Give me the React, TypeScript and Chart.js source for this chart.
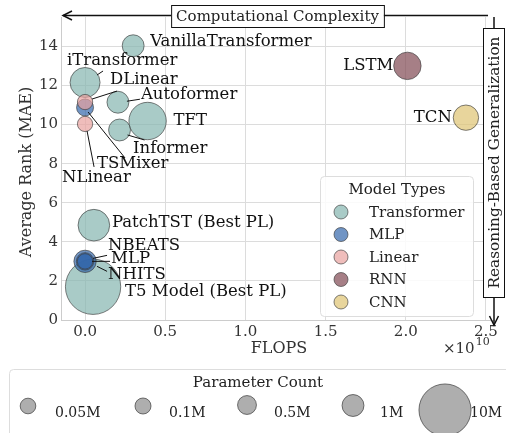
import React, { useEffect, useRef } from "react";
import { Chart, registerables } from "chart.js";

Chart.register(...registerables);

// ---------------- data ----------------
const models = [
  "T5 Model (Best PL)",
  "PatchTST (Best PL)",
  "NBEATS",
  "MLP",
  "NHITS",
  "iTransformer",
  "TSMixer",
  "DLinear",
  "NLinear",
  "VanillaTransformer",
  "Autoformer",
  "Informer",
  "TFT",
  "LSTM",
  "TCN",
];
const modelTypes = [
  "Transformer",
  "Transformer",
  "MLP",
  "MLP",
  "MLP",
  "Transformer",
  "MLP",
  "Linear",
  "Linear",
  "Transformer",
  "Transformer",
  "Transformer",
  "Transformer",
  "RNN",
  "CNN",
];
const flops = [
  0.05e10, 0.055e10, 0, 0, 0, 0, 0, 0, 0, 0.3e10, 0.205e10, 0.215e10, 0.39e10,
  2.01e10, 2.375e10,
];
const avgRank = [
  1.7, 4.85, 3.0, 3.0, 3.0, 12.15, 10.87, 11.15, 10.03, 14.03, 11.14, 9.72,
  10.18, 13.0, 10.35,
];
// parameter count, millions
const paramsM = [
  11.4, 3.1, 1.08, 0.29, 0.02, 2.7, 0.23, 0.01, 0.01, 1.0, 1.0, 1.0, 4.7, 2.1,
  1.66,
];

const typeNames = ["Transformer", "MLP", "Linear", "RNN", "CNN"];
const sizeLegendValues = [0.05, 0.1, 0.5, 1, 10];
const sizeLegendLabels = ["0.05M", "0.1M", "0.5M", "1M", "10M"];

const xTicks = [0, 0.5e10, 1.0e10, 1.5e10, 2.0e10, 2.5e10];
const yTicks = [0, 2, 4, 6, 8, 10, 12, 14];

// ---------------- styles ----------------
const typeColors: Record<string, string> = {
  Transformer: "rgba(132,181,175,0.7)",
  MLP: "rgba(51,102,171,0.7)",
  Linear: "rgba(232,161,158,0.7)",
  RNN: "rgba(128,72,82,0.7)",
  CNN: "rgba(222,195,114,0.7)",
};
const EDGE = "rgba(60,60,60,0.65)";
const SERIF = '"DejaVu Serif", serif';
const radiusFor = (m: number) => Math.sqrt(58 + 62 * m);

// label placements (pixel offsets from bubble centre)
type Place = { dx: number; dy: number; align?: CanvasTextAlign; lead?: number[] };
const labelPlace: Place[] = [
  { dx: 32, dy: 5 },
  { dx: 18, dy: -2 },
  { dx: 23, dy: -16, lead: [8, -3, 22, -6] },
  { dx: 26, dy: -3, lead: [7, 0, 25, 0] },
  { dx: 23, dy: 13, lead: [12, 5, 22, 10] },
  { dx: -18, dy: -21.5, lead: [12, -7.5, 18, -11.5] },
  { dx: 12, dy: 56.5, lead: [3, 4.5, 40, 50.5] },
  { dx: 25, dy: -22, lead: [7, -3, 32, -11] },
  { dx: -23, dy: 54, lead: [2, 7, 9, 43] },
  { dx: 17, dy: -4 },
  { dx: 23, dy: -8, lead: [9, -1, 22, -3] },
  { dx: 13.5, dy: 19, lead: [8, 5, 25, 10] },
  { dx: 26, dy: 0 },
  { dx: -14, dy: 0, align: "right" },
  { dx: -14, dy: 0, align: "right" },
];

function chevron(
  ctx: CanvasRenderingContext2D,
  tx: number,
  ty: number,
  dx: number,
  dy: number,
  len: number,
  half: number
) {
  const bx = tx - dx * len;
  const by = ty - dy * len;
  const px = -dy;
  const py = dx;
  ctx.beginPath();
  ctx.moveTo(bx + px * half, by + py * half);
  ctx.lineTo(tx, ty);
  ctx.lineTo(bx - px * half, by - py * half);
  ctx.stroke();
}

function roundRect(
  ctx: CanvasRenderingContext2D,
  x: number,
  y: number,
  w: number,
  h: number,
  r: number
) {
  ctx.beginPath();
  ctx.moveTo(x + r, y);
  ctx.lineTo(x + w - r, y);
  ctx.arcTo(x + w, y, x + w, y + r, r);
  ctx.lineTo(x + w, y + h - r);
  ctx.arcTo(x + w, y + h, x + w - r, y + h, r);
  ctx.lineTo(x + r, y + h);
  ctx.arcTo(x, y + h, x, y + h - r, r);
  ctx.lineTo(x, y + r);
  ctx.arcTo(x, y, x + r, y, r);
  ctx.closePath();
}

const overlayPlugin = {
  id: "overlay",
  afterDatasetsDraw(chart: any) {
    const ctx: CanvasRenderingContext2D = chart.ctx;
    const xs = chart.scales.x;
    const ys = chart.scales.y;
    ctx.save();

    // bubble labels + leader lines
    ctx.font = `16.5px ${SERIF}`;
    ctx.fillStyle = "#111";
    ctx.textBaseline = "middle";
    models.forEach((name, i) => {
      const px = xs.getPixelForValue(flops[i]);
      const py = ys.getPixelForValue(avgRank[i]);
      const p = labelPlace[i];
      if (p.lead) {
        ctx.strokeStyle = "#111";
        ctx.lineWidth = 1;
        ctx.beginPath();
        ctx.moveTo(px + p.lead[0], py + p.lead[1]);
        ctx.lineTo(px + p.lead[2], py + p.lead[3]);
        ctx.stroke();
      }
      ctx.textAlign = p.align || "left";
      ctx.fillText(name, px + p.dx, py + p.dy);
    });

    // axis titles
    ctx.fillStyle = "#333";
    ctx.font = `16px ${SERIF}`;
    ctx.textAlign = "center";
    ctx.textBaseline = "middle";
    ctx.fillText("FLOPS", 279, 349);
    ctx.save();
    ctx.translate(27, 172);
    ctx.rotate(-Math.PI / 2);
    ctx.fillText("Average Rank (MAE)", 0, 0);
    ctx.restore();
    // offset text x10^10
    ctx.textAlign = "left";
    ctx.font = `15px ${SERIF}`;
    ctx.fillText("\u00d710", 443, 349);
    const w10 = ctx.measureText("\u00d710").width;
    ctx.font = `11px ${SERIF}`;
    ctx.fillText("10", 443 + w10 + 1, 342);

    // top arrow: Computational Complexity
    ctx.strokeStyle = "#111";
    ctx.lineWidth = 1.5;
    ctx.beginPath();
    ctx.moveTo(488, 15.5);
    ctx.lineTo(63, 15.5);
    ctx.stroke();
    chevron(ctx, 63, 15.5, -1, 0, 9, 4.5);
    ctx.font = `15px ${SERIF}`;
    const t1 = "Computational Complexity";
    const tw1 = ctx.measureText(t1).width;
    const cx1 = 277.5;
    ctx.fillStyle = "#fff";
    ctx.lineWidth = 1;
    ctx.fillRect(cx1 - tw1 / 2 - 5, 5, tw1 + 10, 23);
    ctx.strokeRect(cx1 - tw1 / 2 - 5 + 0.5, 5.5, tw1 + 10, 22);
    ctx.fillStyle = "#222";
    ctx.textAlign = "center";
    ctx.fillText(t1, cx1, 17);

    // right arrow: Reasoning-Based Generalization
    ctx.lineWidth = 1.5;
    ctx.beginPath();
    ctx.moveTo(494, 17);
    ctx.lineTo(494, 325);
    ctx.stroke();
    chevron(ctx, 494, 325, 0, 1, 9, 4.5);
    const t2 = "Reasoning-Based Generalization";
    const cy2 = 162.5;
    ctx.fillStyle = "#fff";
    ctx.lineWidth = 1;
    ctx.fillRect(483, 28, 21, 269);
    ctx.strokeRect(483.5, 28.5, 21, 269);
    ctx.fillStyle = "#222";
    ctx.save();
    ctx.translate(494.5, cy2);
    ctx.rotate(-Math.PI / 2);
    ctx.font = `15.3px ${SERIF}`;
    ctx.fillText(t2, 0, 1);
    ctx.restore();

    // legend: Model Types
    roundRect(ctx, 320.5, 176.5, 153, 140, 4);
    ctx.fillStyle = "rgba(255,255,255,0.85)";
    ctx.fill();
    ctx.strokeStyle = "#dddddd";
    ctx.lineWidth = 1;
    ctx.stroke();
    ctx.fillStyle = "#222";
    ctx.font = `15px ${SERIF}`;
    ctx.textAlign = "center";
    ctx.fillText("Model Types", 397, 190);
    const rowsY = [212, 234.5, 257, 279.5, 302];
    typeNames.forEach((t, i) => {
      ctx.beginPath();
      ctx.arc(341, rowsY[i], 7, 0, Math.PI * 2);
      ctx.fillStyle = typeColors[t];
      ctx.fill();
      ctx.strokeStyle = EDGE;
      ctx.stroke();
      ctx.fillStyle = "#222";
      ctx.textAlign = "left";
      ctx.fillText(t, 369, rowsY[i] + 1);
    });

    // legend: Parameter Count
    roundRect(ctx, 9.5, 369.5, 520, 80, 4);
    ctx.fillStyle = "#fff";
    ctx.fill();
    ctx.strokeStyle = "#dddddd";
    ctx.stroke();
    ctx.fillStyle = "#222";
    ctx.textAlign = "center";
    ctx.font = `15px ${SERIF}`;
    ctx.fillText("Parameter Count", 258, 383);
    const mx = [28, 143, 247, 353, 445];
    const my = [406, 406, 405, 405.5, 410];
    const lx = [55, 169, 274, 380, 470];
    sizeLegendValues.forEach((v, i) => {
      ctx.beginPath();
      ctx.arc(mx[i], my[i], radiusFor(v), 0, Math.PI * 2);
      ctx.fillStyle = "rgba(160,160,160,0.85)";
      ctx.fill();
      ctx.strokeStyle = "rgba(60,60,60,0.7)";
      ctx.stroke();
      ctx.fillStyle = "#222";
      ctx.textAlign = "left";
      ctx.font = `14px ${SERIF}`;
      ctx.fillText(sizeLegendLabels[i], lx[i], 413);
    });

    ctx.restore();
  },
};

export default function App() {
  const ref = useRef<HTMLCanvasElement>(null);
  useEffect(() => {
    if (!ref.current) return;
    const data = models.map((_, i) => ({
      x: flops[i],
      y: avgRank[i],
      r: radiusFor(paramsM[i]),
    }));
    const chart = new Chart(ref.current, {
      type: "bubble",
      data: {
        datasets: [
          {
            label: "models",
            data,
            backgroundColor: modelTypes.map((t) => typeColors[t]),
            borderColor: EDGE,
            borderWidth: 1,
            clip: false as any,
          },
        ],
      },
      options: {
        responsive: false,
        animation: false,
        events: [],
        layout: { autoPadding: false, padding: { left: 0, top: 17, right: 12, bottom: 73 } },
        plugins: { legend: { display: false }, tooltip: { enabled: false } },
        scales: {
          x: {
            type: "linear",
            min: -0.15e10,
            max: 2.55e10,
            afterFit: (s: any) => {
              s.height = 40;
            },
            afterBuildTicks: (s: any) => {
              s.ticks = xTicks.map((v) => ({ value: v }));
            },
            grid: { color: "#dcdcdc", drawTicks: false, lineWidth: 1 },
            border: { color: "#cccccc" },
            ticks: {
              padding: 3,
              color: "#333",
              font: { family: SERIF, size: 15 },
              callback: (v: any) => (Number(v) / 1e10).toFixed(1),
            },
          },
          y: {
            type: "linear",
            min: 0,
            max: 15.5,
            afterFit: (s: any) => {
              s.width = 61;
            },
            afterBuildTicks: (s: any) => {
              s.ticks = yTicks.map((v) => ({ value: v }));
            },
            grid: { color: "#dcdcdc", drawTicks: false, lineWidth: 1 },
            border: { color: "#cccccc" },
            ticks: {
              padding: 3,
              color: "#333",
              font: { family: SERIF, size: 15 },
              callback: (v: any) => String(v),
            },
          },
        },
      },
      plugins: [overlayPlugin],
    });
    return () => chart.destroy();
  }, []);
  return (
    <div style={{ position: "fixed", left: 0, top: 0, width: 506, height: 433, background: "#fff" }}>
      <canvas ref={ref} width={506} height={433} style={{ display: "block" }} />
    </div>
  );
}
